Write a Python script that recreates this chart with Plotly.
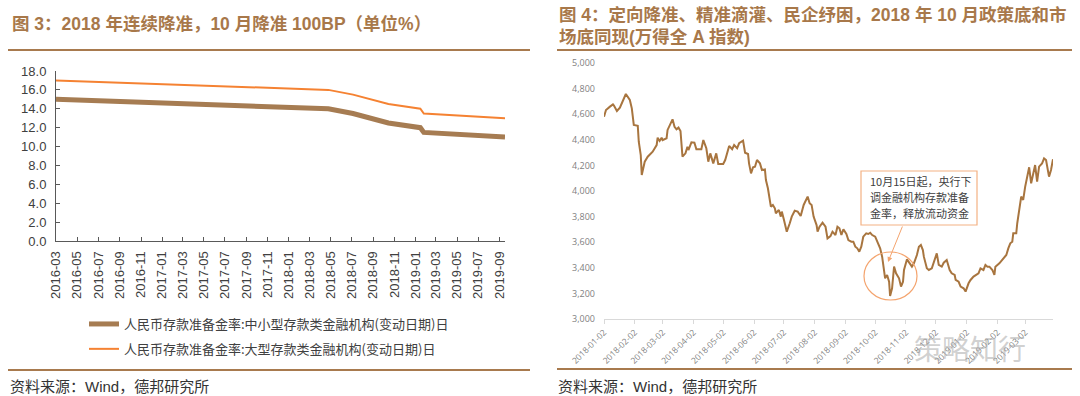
import plotly.graph_objects as go

# ---------------- Left chart data (reserve requirement ratio, %) ----------------
rrr_dates = ["2016-03-01", "2018-04-25", "2018-07-05", "2018-10-15",
             "2019-01-15", "2019-01-25", "2019-09-16"]
rrr_small = [15.0, 14.0, 13.5, 12.5, 12.0, 11.5, 11.0]
rrr_large = [17.0, 16.0, 15.5, 14.5, 14.0, 13.5, 13.0]
name_small = "人民币存款准备金率:中小型存款类金融机构(变动日期)日"
name_large = "人民币存款准备金率:大型存款类金融机构(变动日期)日"

# ---------------- Right chart data (Wind All A index) ----------------
wind_dates = [
    "2018-01-02", "2018-01-04", "2018-01-08", "2018-01-11", "2018-01-12", "2018-01-15",
    "2018-01-18", "2018-01-21", "2018-01-24", "2018-01-28", "2018-01-30", "2018-02-01",
    "2018-02-05", "2018-02-06", "2018-02-08", "2018-02-09", "2018-02-12", "2018-02-15",
    "2018-02-20", "2018-02-24", "2018-02-25", "2018-02-27", "2018-03-01", "2018-03-02",
    "2018-03-06", "2018-03-07", "2018-03-10", "2018-03-12", "2018-03-14", "2018-03-16",
    "2018-03-18", "2018-03-20", "2018-03-22", "2018-03-25", "2018-03-27", "2018-03-28",
    "2018-03-31", "2018-04-03", "2018-04-05", "2018-04-10", "2018-04-12", "2018-04-15",
    "2018-04-17", "2018-04-19", "2018-04-22", "2018-04-25", "2018-04-27", "2018-05-02",
    "2018-05-04", "2018-05-08", "2018-05-11", "2018-05-13", "2018-05-16", "2018-05-18",
    "2018-05-22", "2018-05-24", "2018-05-27", "2018-05-28", "2018-05-30", "2018-06-01",
    "2018-06-03", "2018-06-05", "2018-06-08", "2018-06-10", "2018-06-13", "2018-06-14",
    "2018-06-16", "2018-06-18", "2018-06-19", "2018-06-21", "2018-06-23", "2018-06-24",
    "2018-06-27", "2018-06-29", "2018-06-30", "2018-07-02", "2018-07-05", "2018-07-08",
    "2018-07-10", "2018-07-13", "2018-07-16", "2018-07-19", "2018-07-22", "2018-07-26",
    "2018-07-28", "2018-07-30", "2018-08-01", "2018-08-04", "2018-08-05", "2018-08-07",
    "2018-08-09", "2018-08-10", "2018-08-13", "2018-08-15", "2018-08-18", "2018-08-20",
    "2018-08-23", "2018-08-25", "2018-08-27", "2018-08-29", "2018-08-31", "2018-09-03",
    "2018-09-05", "2018-09-08", "2018-09-10", "2018-09-12", "2018-09-14", "2018-09-16",
    "2018-09-18", "2018-09-20", "2018-09-23", "2018-09-25", "2018-09-27", "2018-09-29",
    "2018-10-02", "2018-10-04", "2018-10-07", "2018-10-09", "2018-10-11", "2018-10-12",
    "2018-10-14", "2018-10-16", "2018-10-17", "2018-10-19", "2018-10-21", "2018-10-23",
    "2018-10-26", "2018-10-28", "2018-10-30", "2018-10-31", "2018-11-03", "2018-11-05",
    "2018-11-08", "2018-11-10", "2018-11-13", "2018-11-15", "2018-11-17", "2018-11-19",
    "2018-11-20", "2018-11-23", "2018-11-25", "2018-11-28", "2018-11-30", "2018-12-03",
    "2018-12-05", "2018-12-08", "2018-12-10", "2018-12-13", "2018-12-16", "2018-12-18",
    "2018-12-21", "2018-12-22", "2018-12-25", "2018-12-27", "2018-12-30", "2019-01-01",
    "2019-01-04", "2019-01-06", "2019-01-09", "2019-01-11", "2019-01-14", "2019-01-16",
    "2019-01-19", "2019-01-21", "2019-01-23", "2019-01-25", "2019-01-28", "2019-01-30",
    "2019-01-31", "2019-02-04", "2019-02-07", "2019-02-11", "2019-02-13", "2019-02-15",
    "2019-02-17", "2019-02-18", "2019-02-21", "2019-02-22", "2019-02-26", "2019-02-28",
    "2019-03-02", "2019-03-04", "2019-03-06", "2019-03-08", "2019-03-10", "2019-03-12",
    "2019-03-14", "2019-03-16", "2019-03-19", "2019-03-21", "2019-03-23", "2019-03-24",
    "2019-03-26", "2019-03-28", "2019-03-30",
]
wind_values = [
    4580, 4633, 4659, 4677, 4667, 4625,
    4651, 4698, 4758, 4711, 4646, 4516,
    4510, 4385, 4281, 4125, 4229, 4268,
    4307, 4359, 4416, 4391, 4416, 4398,
    4412, 4477, 4521, 4560, 4502, 4482,
    4495, 4469, 4268, 4294, 4346, 4320,
    4380, 4377, 4326, 4326, 4398, 4334,
    4229, 4294, 4216, 4294, 4211, 4211,
    4242, 4352, 4326, 4359, 4334, 4373,
    4393, 4299, 4289, 4216, 4138, 4185,
    4190, 4242, 4216, 4164, 4169, 4086,
    4021, 3904, 3878, 3891, 3865, 3826,
    3852, 3800, 3839, 3779, 3682, 3748,
    3800, 3846, 3839, 3805, 3891, 3956,
    3904, 3891, 3800, 3734, 3682, 3721,
    3748, 3753, 3721, 3630, 3648, 3682,
    3656, 3721, 3709, 3656, 3701, 3664,
    3617, 3604, 3604, 3565, 3552, 3526,
    3565, 3643, 3669, 3664, 3674, 3656,
    3643, 3604, 3552, 3487, 3357, 3318,
    3344, 3291, 3180, 3240, 3409, 3357,
    3318, 3253, 3291, 3383, 3466, 3440,
    3409, 3435, 3500, 3565, 3578, 3539,
    3487, 3396, 3383, 3396, 3448, 3513,
    3422, 3409, 3440, 3461, 3383, 3357,
    3344, 3305, 3291, 3253, 3240, 3214,
    3279, 3305, 3331, 3344, 3357, 3396,
    3383, 3422, 3409, 3409, 3383, 3344,
    3409, 3435, 3461, 3500, 3552, 3591,
    3604, 3669, 3669, 3748, 3956, 3930,
    4034, 4112, 4185, 4060, 4138, 4203,
    4073, 4190, 4216, 4255, 4242, 4190,
    4112, 4164, 4248,
]

title_left = "图 3：2018 年连续降准，10 月降准 100BP（单位%）"
title_right_1 = "图 4：定向降准、精准滴灌、民企纾困，2018 年 10 月政策底和市"
title_right_2 = "场底同现(万得全 A 指数)"
source_text = "资料来源：Wind，德邦研究所"
note_lines = ["10月15日起，央行下", "调金融机构存款准备", "金率，释放流动资金"]
watermark = "策略知行"

W, H = 1080, 396
def px(x):
    return x / W
def py(y):
    return 1 - y / H

FONT = "Liberation Sans, Arial, Noto Sans CJK SC, sans-serif"
CJK = "Liberation Sans, Noto Sans CJK SC, sans-serif"
BROWN_T = "#A8784A"
C_SMALL = "#A67C52"
C_LARGE = "#F58232"
C_WIND = "#A8753F"
C_NOTE = "#F4A46E"

fig = go.Figure()
fig.add_trace(go.Scatter(x=rrr_dates, y=rrr_small, mode="lines", name=name_small,
                         line=dict(color=C_SMALL, width=5), legendgroup="a",
                         xaxis="x", yaxis="y"))
fig.add_trace(go.Scatter(x=rrr_dates, y=rrr_large, mode="lines", name=name_large,
                         line=dict(color=C_LARGE, width=2), legendgroup="b",
                         xaxis="x", yaxis="y"))
fig.add_trace(go.Scatter(x=wind_dates, y=wind_values, mode="lines", name="万得全A",
                         line=dict(color=C_WIND, width=2), showlegend=False,
                         xaxis="x2", yaxis="y2"))

axis_dark = "#595959"
fig.update_layout(
    template="none",
    width=W, height=H, autosize=False,
    margin=dict(l=0, r=0, t=0, b=0, pad=0, autoexpand=False),
    paper_bgcolor="white", plot_bgcolor="white",
    font=dict(family=FONT, color="#404040"),
    xaxis=dict(domain=[px(56), px(505)], anchor="y", type="date", automargin=False,
               range=["2016-03-01", "2019-09-16"], tick0="2016-03-01", dtick="M2",
               tickformat="%Y-%m", tickangle=-90, ticks="inside", ticklen=4,
               tickcolor=axis_dark, showline=True, linecolor=axis_dark, linewidth=1,
               showgrid=False, zeroline=False,
               tickfont=dict(size=13, family=FONT, color="#404040"),
               ticklabelstandoff=4),
    yaxis=dict(domain=[py(241), py(71)], anchor="x", range=[0, 18], dtick=2, automargin=False,
               tickformat=".1f", ticks="inside", ticklen=4, tickcolor=axis_dark,
               showline=True, linecolor=axis_dark, linewidth=1, showgrid=False,
               zeroline=False, tickfont=dict(size=13, family=FONT, color="#404040"),
               ticklabelstandoff=6),
    xaxis2=dict(domain=[px(604), px(1053)], anchor="y2", type="date", automargin=False,
                range=["2018-01-02", "2019-03-30"], tick0="2018-01-02", dtick="M1",
                tickformat="%Y-%m-%d", tickangle=-45, ticks="outside", ticklen=4,
                tickcolor="#D9D9D9", showline=True, linecolor="#D9D9D9", linewidth=1,
                showgrid=False, zeroline=False,
                tickfont=dict(size=8.5, family="Open Sans, sans-serif", color="#7F7F7F")),
    yaxis2=dict(domain=[py(319), py(63)], anchor="x2", range=[3000, 5000], dtick=200,
                automargin=False, tickformat=",", showline=False, showgrid=False, zeroline=False,
                ticks="", tickfont=dict(size=9, family="Open Sans, sans-serif", color="#7F7F7F"),
                ticklabelstandoff=8),
    legend=dict(x=px(84), y=py(309), xanchor="left", yanchor="top",
                font=dict(size=13, family="Noto Sans CJK SC, sans-serif", color="#404040"),
                tracegroupgap=5, bgcolor="rgba(0,0,0,0)", traceorder="grouped"),
)

ann = []
# Titles
ann.append(dict(x=px(10), y=py(24), xref="paper", yref="paper", xanchor="left", yanchor="middle",
                text="<b>" + title_left + "</b>", showarrow=False,
                font=dict(size=17.5, family=CJK, color=BROWN_T)))
ann.append(dict(x=px(557), y=py(15), xref="paper", yref="paper", xanchor="left", yanchor="middle",
                text="<b>" + title_right_1 + "</b>", showarrow=False,
                font=dict(size=17.5, family=CJK, color=BROWN_T)))
ann.append(dict(x=px(557), y=py(37), xref="paper", yref="paper", xanchor="left", yanchor="middle",
                text="<b>" + title_right_2 + "</b>", showarrow=False,
                font=dict(size=17.5, family=CJK, color=BROWN_T)))
# Sources
for sx in (8, 556):
    ann.append(dict(x=px(sx), y=py(386), xref="paper", yref="paper", xanchor="left", yanchor="middle",
                    text=source_text, showarrow=False,
                    font=dict(size=15, family=CJK, color="#333333")))
# Note box text
for i, t in enumerate(note_lines):
    ann.append(dict(x=px(868), y=py(181 + 16 * i), xref="paper", yref="paper",
                    xanchor="left", yanchor="middle", text=t, showarrow=False,
                    font=dict(size=11, family="Noto Sans CJK SC, sans-serif", color="#404040")))
# Arrow
ann.append(dict(x=px(888), y=py(262), xref="paper", yref="paper", text="", showarrow=True,
                ax=15, ay=-37, arrowhead=2, arrowsize=1, arrowwidth=1, arrowcolor=C_NOTE))
# Watermark
ann.append(dict(x=px(970), y=py(348), xref="paper", yref="paper", xanchor="center", yanchor="middle",
                text=watermark, showarrow=False,
                font=dict(size=28, family="Noto Sans CJK SC, sans-serif", color="rgba(170,170,170,0.55)")))
fig.update_layout(annotations=ann)

shapes = []
# separator lines
shapes.append(dict(type="line", xref="paper", yref="paper", x0=px(8), x1=px(530), y0=py(50), y1=py(50),
                   line=dict(color="#A87A4E", width=2)))
shapes.append(dict(type="line", xref="paper", yref="paper", x0=px(557), x1=px(1072), y0=py(50), y1=py(50),
                   line=dict(color="#A87A4E", width=2)))
shapes.append(dict(type="line", xref="paper", yref="paper", x0=px(8), x1=px(530), y0=py(370), y1=py(370),
                   line=dict(color="#A87A4E", width=2)))
shapes.append(dict(type="line", xref="paper", yref="paper", x0=px(557), x1=px(1072), y0=py(369), y1=py(369),
                   line=dict(color="#A87A4E", width=2)))
# note box
shapes.append(dict(type="rect", xref="paper", yref="paper", x0=px(861), x1=px(977), y0=py(225), y1=py(171),
                   line=dict(color="#F4B183", width=1.2), fillcolor="rgba(255,255,255,0)", layer="above"))
# circle
shapes.append(dict(type="circle", xref="paper", yref="paper", x0=px(864), x1=px(917), y0=py(300), y1=py(252),
                   line=dict(color=C_NOTE, width=1.2), layer="above"))
fig.update_layout(shapes=shapes)

fig.write_html("out.html", config={"displayModeBar": False},
               post_script="document.body.style.margin='0';document.body.style.overflow='hidden';")
